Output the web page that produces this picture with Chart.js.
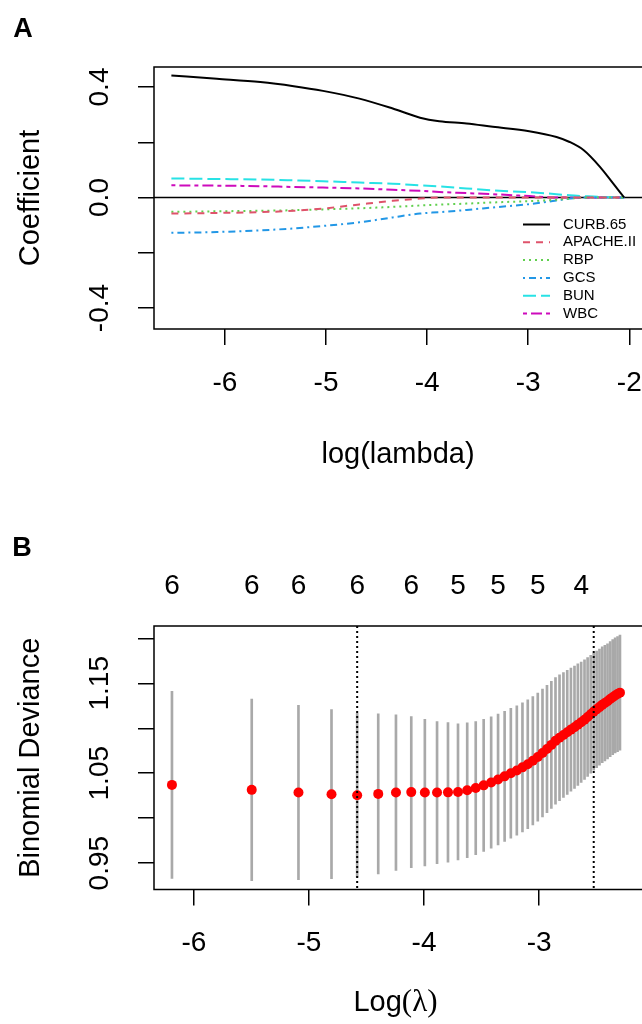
<!DOCTYPE html>
<html>
<head>
<meta charset="utf-8">
<script src="https://cdn.jsdelivr.net/npm/chart.js@4"></script>
<style>
body { margin: 0; background: #fff; }
canvas { position: absolute; left: 0; }
</style>
</head>
<body>
<canvas id="chartA" width="642" height="480" style="top:0px"></canvas>
<canvas id="chartB" width="642" height="544" style="top:480px"></canvas>
<script>
// ---- panel A : coefficient paths ----
const lambdaA = [-6.53, -6.08, -5.65, -5.32, -5.03, -4.67, -4.34, -4.07, -3.88, -3.61, -3.35, -2.99, -2.72, -2.59, -2.45, -2.29, -2.16, -2.05];
const curb65  = [0.442, 0.430, 0.418, 0.403, 0.386, 0.358, 0.322, 0.289, 0.276, 0.268, 0.256, 0.240, 0.219, 0.201, 0.171, 0.111, 0.051, 0];
const apache  = [-0.058, -0.056, -0.053, -0.048, -0.040, -0.025, -0.012, -0.004, 0, 0, 0, 0, 0, 0, 0, 0, 0, 0];
const rbp     = [-0.052, -0.050, -0.048, -0.046, -0.043, -0.039, -0.034, -0.029, -0.026, -0.022, -0.018, -0.013, -0.008, -0.004, 0, 0, 0, 0];
const gcs     = [-0.128, -0.125, -0.119, -0.112, -0.103, -0.090, -0.072, -0.058, -0.053, -0.045, -0.036, -0.024, -0.011, -0.004, 0, 0, 0, 0];
const bun     = [0.069, 0.067, 0.065, 0.062, 0.059, 0.054, 0.050, 0.044, 0.040, 0.033, 0.026, 0.019, 0.012, 0.008, 0.005, 0.002, 0.001, 0];
const wbc     = [0.044, 0.043, 0.041, 0.038, 0.036, 0.033, 0.028, 0.024, 0.020, 0.016, 0.012, 0.005, 0, 0, 0, 0, 0, 0];
const varNames = ["CURB.65", "APACHE.II", "RBP", "GCS", "BUN", "WBC"];
const xTicksA = [-6, -5, -4, -3, -2];
const xLabelsA = ["-6", "-5", "-4", "-3", "-2"];
const yTicksA = [-0.4, -0.2, 0, 0.2, 0.4];
const yLabelsA = ["-0.4", "", "0.0", "", "0.4"];

// ---- panel B : cross-validation curve ----
const lambdaB = [-6.190, -5.497, -5.091, -4.804, -4.581, -4.398, -4.244, -4.111, -3.993, -3.887,
  -3.792, -3.705, -3.625, -3.551, -3.482, -3.417, -3.357, -3.300, -3.246, -3.194,
  -3.145, -3.099, -3.055, -3.012, -2.971, -2.932, -2.894, -2.858, -2.823, -2.789,
  -2.756, -2.724, -2.693, -2.664, -2.635, -2.606, -2.579, -2.552, -2.526, -2.501,
  -2.476, -2.452, -2.429, -2.406, -2.383, -2.361, -2.340, -2.319, -2.298];
const cvm = [1.037, 1.0315, 1.0285, 1.0267, 1.0255, 1.027, 1.0285, 1.029, 1.0285, 1.0285,
  1.0287, 1.0292, 1.031, 1.0335, 1.0365, 1.0396, 1.043, 1.0465, 1.050, 1.053,
  1.0565, 1.060, 1.0638, 1.068, 1.0725, 1.077, 1.0815, 1.086, 1.0895, 1.0925,
  1.0955, 1.0985, 1.1012, 1.104, 1.1067, 1.1095, 1.1125, 1.1155, 1.1185, 1.121,
  1.1235, 1.126, 1.128, 1.130, 1.1325, 1.1345, 1.1365, 1.138, 1.1396];
const cvup = [1.141, 1.1325, 1.1255, 1.1207, 1.1165, 1.116, 1.115, 1.113, 1.110, 1.1075,
  1.1062, 1.1049, 1.106, 1.1075, 1.110, 1.1126, 1.1157, 1.1189, 1.1222, 1.125,
  1.1283, 1.1316, 1.1352, 1.1392, 1.1435, 1.1478, 1.1521, 1.1563, 1.1595, 1.162,
  1.1645, 1.167, 1.1692, 1.1715, 1.1737, 1.176, 1.1785, 1.181, 1.1835, 1.1858,
  1.1881, 1.1904, 1.1922, 1.194, 1.1965, 1.1985, 1.2005, 1.202, 1.2036];
const cvlo = [0.933, 0.9305, 0.9315, 0.9327, 0.9345, 0.938, 0.942, 0.945, 0.947, 0.9495,
  0.9512, 0.9535, 0.956, 0.9595, 0.963, 0.9666, 0.9703, 0.9741, 0.9778, 0.981,
  0.9847, 0.9884, 0.9924, 0.9968, 1.0015, 1.0062, 1.0109, 1.0157, 1.0195, 1.023,
  1.0265, 1.030, 1.0332, 1.0365, 1.0397, 1.043, 1.0465, 1.050, 1.0535, 1.0562,
  1.0589, 1.0616, 1.0638, 1.066, 1.0685, 1.0705, 1.0725, 1.074, 1.0756];
const lambdaMarks = [-4.581, -2.526];
const nzeroAt = [-6.190, -5.497, -5.091, -4.581, -4.111, -3.705, -3.357, -3.012, -2.635];
const nzeroLabels = ["6", "6", "6", "6", "6", "5", "5", "5", "4"];
const xTicksB = [-6, -5, -4, -3];
const xLabelsB = ["-6", "-5", "-4", "-3"];
const yTicksB = [0.95, 1.00, 1.05, 1.10, 1.15, 1.20];
const yLabelsB = ["0.95", "", "1.05", "", "1.15", ""];

const SANS = '"Liberation Sans", Arial, sans-serif';

function pts(xs, ys) {
    return xs.map((v, i) => ({ x: v, y: ys[i] }));
}

// R-like box, tick labels, titles, legend, extra lines
const rStyle = {
    id: 'rStyle',
    beforeDatasetsDraw(chart, args, o) {
        const ctx = chart.ctx, a = chart.chartArea, y = chart.scales.y;
        if (o.zeroLine) {
            ctx.save();
            ctx.strokeStyle = '#000';
            ctx.lineWidth = 1.5;
            ctx.beginPath();
            ctx.moveTo(a.left, y.getPixelForValue(0));
            ctx.lineTo(a.right, y.getPixelForValue(0));
            ctx.stroke();
            ctx.restore();
        }
    },
    afterDatasetsDraw(chart, args, o) {
        const ctx = chart.ctx, a = chart.chartArea, x = chart.scales.x;
        if (!o.vlines) return;
        ctx.save();
        ctx.strokeStyle = '#000';
        ctx.lineWidth = 2;
        ctx.setLineDash([2, 3]);
        o.vlines.forEach(v => {
            ctx.beginPath();
            ctx.moveTo(x.getPixelForValue(v), a.top);
            ctx.lineTo(x.getPixelForValue(v), a.bottom);
            ctx.stroke();
        });
        ctx.restore();
    },
    afterDraw(chart, args, o) {
        const ctx = chart.ctx, a = chart.chartArea;
        const x = chart.scales.x, y = chart.scales.y;
        ctx.save();
        ctx.strokeStyle = '#000';
        ctx.lineWidth = 1.5;
        ctx.beginPath();
        ctx.moveTo(a.right + 5, a.top);
        ctx.lineTo(a.left, a.top);
        ctx.lineTo(a.left, a.bottom);
        ctx.lineTo(a.right + 5, a.bottom);
        ctx.stroke();

        ctx.fillStyle = '#000';
        ctx.textAlign = 'center';
        ctx.textBaseline = 'middle';
        ctx.font = '28px ' + SANS;
        o.xLabels.forEach((t, i) => {
            if (t) ctx.fillText(t, x.getPixelForValue(o.xTicks[i]), a.bottom + 54);
        });
        o.yLabels.forEach((t, i) => {
            if (!t) return;
            ctx.save();
            ctx.translate(a.left - 54, y.getPixelForValue(o.yTicks[i]));
            ctx.rotate(-Math.PI / 2);
            ctx.fillText(t, 0, 0);
            ctx.restore();
        });
        if (o.topAt) {
            o.topAt.forEach((v, i) => ctx.fillText(o.topLabels[i], x.getPixelForValue(v), a.top - 40));
        }

        // y title
        ctx.font = '29px ' + SANS;
        ctx.save();
        ctx.translate(31, (a.top + a.bottom) / 2);
        ctx.rotate(-Math.PI / 2);
        ctx.fillText(o.yTitle, 0, 0);
        ctx.restore();

        // x title (pieces so the lambda can use a serif face)
        const cx = (a.left + a.right) / 2;
        let w = 0;
        o.xTitle.forEach(p => { ctx.font = p.font; w += ctx.measureText(p.text).width; });
        let px = cx - w / 2;
        ctx.textAlign = 'left';
        o.xTitle.forEach(p => {
            ctx.font = p.font;
            ctx.fillText(p.text, px, a.bottom + o.xTitleGap);
            px += ctx.measureText(p.text).width;
        });

        // panel letter
        ctx.font = 'bold 27px ' + SANS;
        ctx.textAlign = 'center';
        ctx.fillText(o.letter, o.letterX, o.letterY);

        // legend inside the plot
        if (o.legend) {
            chart.data.datasets.forEach((ds, i) => {
                const ly = o.legend.y + i * o.legend.step;
                ctx.save();
                ctx.strokeStyle = ds.borderColor;
                ctx.lineWidth = ds.borderWidth;
                ctx.setLineDash(ds.borderDash || []);
                ctx.beginPath();
                ctx.moveTo(o.legend.x1, ly);
                ctx.lineTo(o.legend.x2, ly);
                ctx.stroke();
                ctx.restore();
                ctx.font = '15px ' + SANS;
                ctx.textAlign = 'left';
                ctx.fillText(ds.label, o.legend.tx, ly);
            });
        }
        ctx.restore();
    }
};

function rAxis(min, max, ticks, size, isX) {
    return {
        type: 'linear',
        min: min,
        max: max,
        offset: false,
        afterBuildTicks: s => { s.ticks = ticks.map(v => ({ value: v })); },
        afterFit: s => { if (isX) s.height = size; else s.width = size; },
        ticks: { display: false },
        border: { display: false },
        grid: { display: true, offset: false, drawOnChartArea: false, drawTicks: true, tickLength: 16, color: '#000', lineWidth: 1.5 }
    };
}

const lineDs = (label, ys, color, dash) => ({
    label: label,
    data: pts(lambdaA, ys),
    borderColor: color,
    borderWidth: 2,
    borderDash: dash,
    pointRadius: 0,
    fill: false,
    cubicInterpolationMode: 'monotone'
});

new Chart(document.getElementById('chartA'), {
    type: 'line',
    data: {
        datasets: [
            lineDs(varNames[0], curb65, '#000000', []),
            lineDs(varNames[1], apache, '#DF536B', [7, 6]),
            lineDs(varNames[2], rbp, '#61D04F', [2, 4]),
            lineDs(varNames[3], gcs, '#2297E6', [2, 4, 7, 4]),
            lineDs(varNames[4], bun, '#28E2E5', [13, 5]),
            lineDs(varNames[5], wbc, '#CD0BBC', [4, 4, 11, 4])
        ]
    },
    options: {
        responsive: false,
        animation: false,
        layout: { padding: { top: 67, left: 0, right: 0, bottom: 0 } },
        scales: {
            x: rAxis(-6.702, -1.874, xTicksA, 151, true),
            y: rAxis(-0.476, 0.4724, yTicksA, 154, false)
        },
        plugins: {
            legend: { display: false },
            tooltip: { enabled: false },
            rStyle: {
                zeroLine: true,
                xTicks: xTicksA, xLabels: xLabelsA,
                yTicks: yTicksA, yLabels: yLabelsA,
                yTitle: 'Coefficient',
                xTitle: [{ text: 'log(lambda)', font: '29px ' + SANS }],
                xTitleGap: 126,
                letter: 'A', letterX: 23, letterY: 30,
                legend: { x1: 523, x2: 550, tx: 563, y: 224.5, step: 17.8 }
            }
        }
    },
    plugins: [rStyle]
});

new Chart(document.getElementById('chartB'), {
    type: 'bar',
    data: {
        datasets: [
            {
                type: 'scatter',
                label: 'cvm',
                data: pts(lambdaB, cvm),
                pointRadius: 5,
                pointBackgroundColor: '#FF0000',
                pointBorderWidth: 0,
                order: 0
            },
            {
                type: 'bar',
                label: 'cv range',
                data: lambdaB.map((v, i) => ({ x: v, y: [cvlo[i], cvup[i]] })),
                backgroundColor: '#A9A9A9',
                borderWidth: 0,
                barThickness: 2,
                order: 2
            }
        ]
    },
    options: {
        responsive: false,
        animation: false,
        layout: { padding: { top: 146, left: 0, right: 0, bottom: 0 } },
        scales: {
            x: rAxis(-6.346, -2.15, xTicksB, 134.5, true),
            y: rAxis(0.9207, 1.2137, yTicksB, 154, false)
        },
        plugins: {
            legend: { display: false },
            tooltip: { enabled: false },
            rStyle: {
                vlines: lambdaMarks,
                topAt: nzeroAt, topLabels: nzeroLabels,
                xTicks: xTicksB, xLabels: xLabelsB,
                yTicks: yTicksB, yLabels: yLabelsB,
                yTitle: 'Binomial Deviance',
                xTitle: [{ text: 'Log', font: '29px ' + SANS }, { text: '(\u03bb)', font: '31px "Liberation Serif", serif' }],
                xTitleGap: 113,
                letter: 'B', letterX: 22, letterY: 69
            }
        }
    },
    plugins: [rStyle]
});
</script>
</body>
</html>
